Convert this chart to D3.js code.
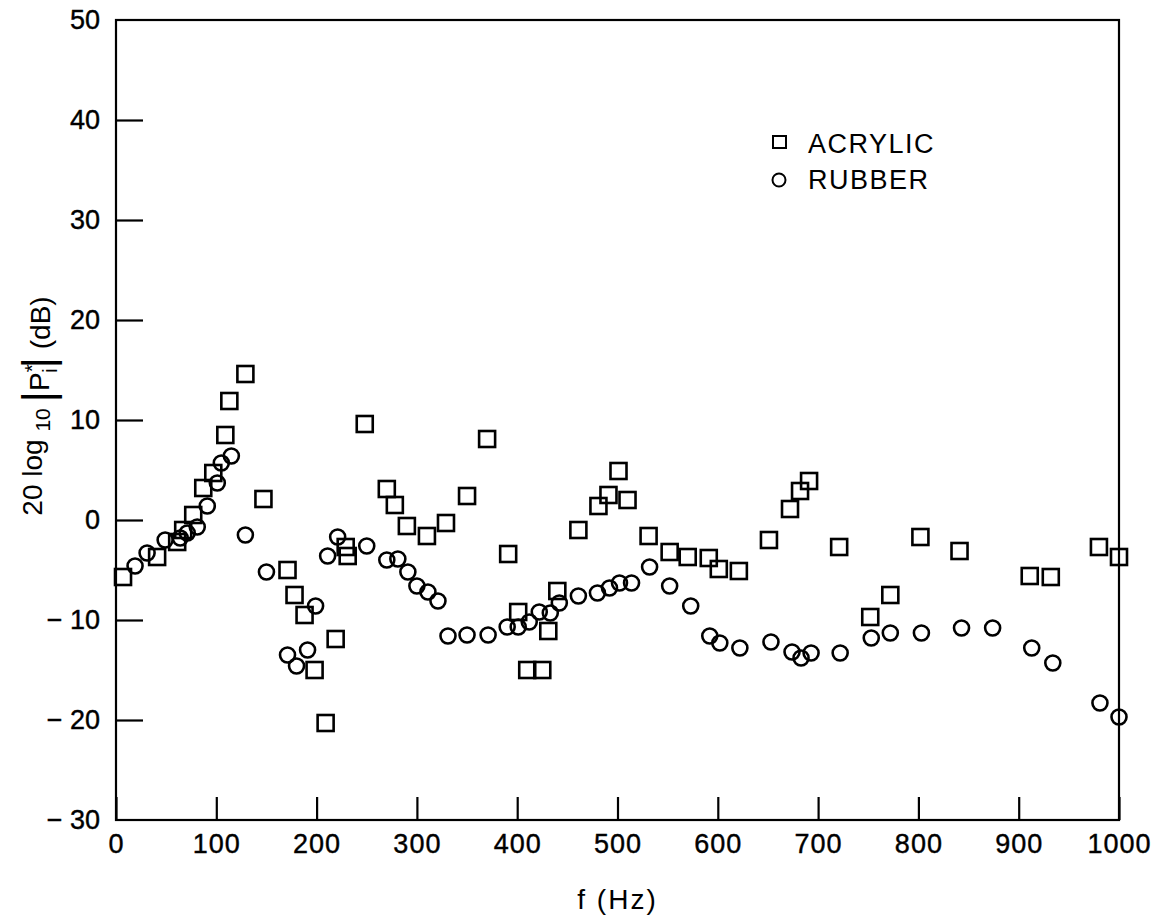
<!DOCTYPE html>
<html>
<head>
<meta charset="utf-8">
<script src="https://cdn.jsdelivr.net/npm/d3@7"></script>
<style>
  body { margin: 0; background: #fff; }
  text { font-family: "Liberation Sans", Arial, sans-serif; fill: #000; }
</style>
</head>
<body>
<div id="chart"></div>
<script>
// Data
const acrylicFreq = [7, 41, 61, 67, 77, 87, 97, 109, 113, 129, 147, 171, 178, 188, 198, 209, 219, 229, 231, 248,
  270, 278, 290, 310, 329, 350, 370, 391, 401, 410, 425, 431, 440, 461, 481, 491, 501, 510, 531, 552,
  570, 591, 601, 621, 651, 672, 682, 691, 721, 752, 772, 802, 841, 911, 932, 980, 1000];
const acrylicDb = [-5.7, -3.7, -2.2, -1.0, 0.5, 3.2, 4.7, 8.5, 11.9, 14.6, 2.1, -5.0, -7.5, -9.5, -15.0, -20.3, -11.9, -2.7, -3.6, 9.6,
  3.1, 1.5, -0.6, -1.6, -0.3, 2.4, 8.1, -3.4, -9.2, -15.0, -15.0, -11.1, -7.1, -1.0, 1.4, 2.5, 4.9, 2.0, -1.6, -3.2,
  -3.7, -3.8, -4.9, -5.1, -2.0, 1.1, 2.9, 3.9, -2.7, -9.7, -7.5, -1.7, -3.1, -5.6, -5.7, -2.7, -3.7];

const rubberFreq = [19, 31, 49, 64, 71, 81, 91, 101, 105, 115, 129, 150, 171, 180, 191, 199, 211, 221, 250,
  270, 281, 291, 300, 311, 321, 331, 350, 371, 390, 401, 412, 422, 433, 442, 461, 480, 492, 502, 514,
  532, 552, 573, 592, 602, 622, 653, 674, 683, 693, 722, 753, 772, 803, 843, 874, 913, 934, 981, 1000];
const rubberDb = [-4.6, -3.3, -2.0, -1.8, -1.3, -0.7, 1.4, 3.7, 5.7, 6.4, -1.5, -5.2, -13.5, -14.6, -13.0, -8.6, -3.6, -1.7, -2.6,
  -4.0, -3.9, -5.2, -6.6, -7.2, -8.1, -11.6, -11.5, -11.5, -10.7, -10.7, -10.2, -9.2, -9.3, -8.3, -7.6, -7.3, -6.8, -6.3, -6.3,
  -4.7, -6.6, -8.6, -11.6, -12.3, -12.8, -12.2, -13.2, -13.8, -13.3, -13.3, -11.8, -11.3, -11.3, -10.8, -10.8, -12.8, -14.3, -18.3, -19.7];

const xTicks = [0, 100, 200, 300, 400, 500, 600, 700, 800, 900, 1000];
const yTicks = [-30, -20, -10, 0, 10, 20, 30, 40, 50];

const svgWidth = 1160;
const svgHeight = 918;
const margin = { top: 20, right: 41, bottom: 98, left: 116 };
const width = svgWidth - margin.left - margin.right;
const height = svgHeight - margin.top - margin.bottom;

const svg = d3.select("#chart")
  .append("svg")
  .attr("width", svgWidth)
  .attr("height", svgHeight);

const chartGroup = svg.append("g")
  .attr("transform", `translate(${margin.left}, ${margin.top})`);

const x = d3.scaleLinear().domain([0, 1000]).range([0, width]);
const y = d3.scaleLinear().domain([-30, 50]).range([height, 0]);

const fmt = d => d < 0 ? "\u2212 " + (-d) : String(d);

// axes with inward ticks
const xAxis = chartGroup.append("g")
  .attr("transform", `translate(0, ${height})`)
  .call(d3.axisBottom(x).tickValues(xTicks).tickFormat(fmt)
    .tickSizeInner(-23).tickSizeOuter(0).tickPadding(14));

const yAxis = chartGroup.append("g")
  .call(d3.axisLeft(y).tickValues(yTicks.filter(v => v > -30 && v < 50)).tickFormat(fmt)
    .tickSizeInner(-27).tickSizeOuter(0).tickPadding(16));

// end labels of the y axis (no tick marks there)
yAxis.selectAll(".endLabel")
  .data([-30, 50])
  .enter()
  .append("text")
  .attr("x", -16)
  .attr("y", d => y(d))
  .attr("dy", "0.32em")
  .attr("text-anchor", "end")
  .text(fmt);

[xAxis, yAxis].forEach(a => {
  a.select(".domain").remove();
  a.selectAll("line").attr("stroke", "#000").attr("stroke-width", 2.2);
  a.selectAll("text").attr("font-size", 27).attr("fill", "#000")
    .attr("stroke", "#000").attr("stroke-width", 0.4)
    .style("font-family", "'Liberation Sans', Arial, sans-serif");
});
xAxis.selectAll("text").attr("letter-spacing", 1);

// frame
chartGroup.append("rect")
  .attr("x", 0).attr("y", 0)
  .attr("width", width).attr("height", height)
  .attr("fill", "none")
  .attr("stroke", "#000")
  .attr("stroke-width", 2.2);

const sq = 16;
const acrylic = acrylicFreq.map((f, i) => ({ f: f, db: acrylicDb[i] }));
const rubber = rubberFreq.map((f, i) => ({ f: f, db: rubberDb[i] }));

chartGroup.selectAll("rect.acrylic")
  .data(acrylic)
  .enter()
  .append("rect")
  .attr("class", "acrylic")
  .attr("x", d => x(d.f) - sq / 2)
  .attr("y", d => y(d.db) - sq / 2)
  .attr("width", sq)
  .attr("height", sq)
  .attr("fill", "none")
  .attr("stroke", "#000")
  .attr("stroke-width", 2.6);

chartGroup.selectAll("circle.rubber")
  .data(rubber)
  .enter()
  .append("circle")
  .attr("class", "rubber")
  .attr("cx", d => x(d.f))
  .attr("cy", d => y(d.db))
  .attr("r", 7.5)
  .attr("fill", "none")
  .attr("stroke", "#000")
  .attr("stroke-width", 2.6);

// legend
const legend = svg.append("g");
legend.append("rect")
  .attr("x", 773).attr("y", 136)
  .attr("width", 13).attr("height", 12)
  .attr("fill", "none").attr("stroke", "#000").attr("stroke-width", 2);
legend.append("text")
  .attr("x", 808).attr("y", 153)
  .attr("font-size", 27)
  .attr("letter-spacing", 1.5)
  .text("ACRYLIC");
legend.append("circle")
  .attr("cx", 779).attr("cy", 180).attr("r", 6.5)
  .attr("fill", "none").attr("stroke", "#000").attr("stroke-width", 2);
legend.append("text")
  .attr("x", 808).attr("y", 189)
  .attr("font-size", 27)
  .attr("letter-spacing", 1.5)
  .text("RUBBER");

// x axis title
svg.append("text")
  .attr("x", margin.left + width / 2)
  .attr("y", 909)
  .attr("text-anchor", "middle")
  .attr("font-size", 28)
  .attr("letter-spacing", 2)
  .text("f (Hz)");

// y axis title: 20 log10 |P*i| (dB)
const yTitle = svg.append("text")
  .attr("transform", "translate(42, 406) rotate(-90)")
  .attr("text-anchor", "middle")
  .attr("font-size", 28);
yTitle.append("tspan").text("20 log ");
yTitle.append("tspan").attr("font-size", 21).attr("dy", 8).text("10 ");
yTitle.append("tspan").attr("font-size", 44).attr("dy", 3).text("|");
yTitle.append("tspan").attr("dy", -4).text("P");
yTitle.append("tspan").attr("font-size", 21).attr("dy", -10).text("*");
yTitle.append("tspan").attr("font-size", 21).attr("dx", -9).attr("dy", 18).text("i");
yTitle.append("tspan").attr("font-size", 44).attr("dy", -4).text("|");
yTitle.append("tspan").attr("dy", -3).text(" (dB)");
</script>
</body>
</html>
